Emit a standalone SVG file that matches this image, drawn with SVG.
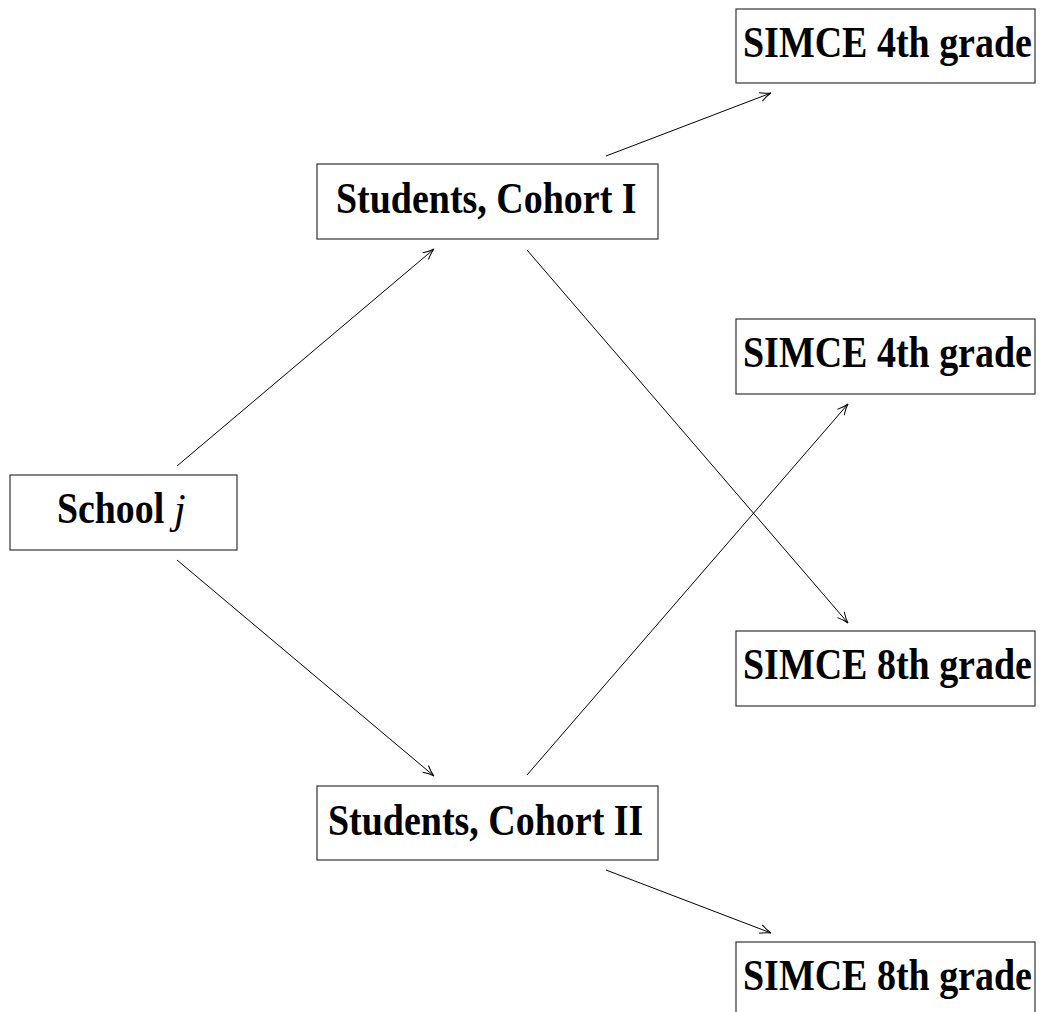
<svg xmlns="http://www.w3.org/2000/svg" width="1042" height="1012" viewBox="0 0 1042 1012">
<style>
.box{fill:#fff;stroke:#333;stroke-width:1.2}
.lbl{font-family:"Liberation Serif","Times New Roman",serif;font-weight:bold;font-size:44px;fill:#000}
.it{font-family:"Liberation Serif","Times New Roman",serif;font-style:italic;font-weight:normal;font-size:42px;fill:#000}
.edge{stroke:#000;stroke-width:1;fill:none;marker-end:url(#ah)}
</style>
<defs>
<marker id="ah" viewBox="-12 -6 14 12" refX="0" refY="0" markerWidth="14" markerHeight="12" markerUnits="userSpaceOnUse" orient="auto">
<path d="M-11,-4.5 Q-5,-1 0,0 Q-5,1 -11,4.5" fill="none" stroke="#000" stroke-width="1"/>
</marker>
</defs>
<rect width="1042" height="1012" fill="#fff"/>
<g id="connectors">
<line class="edge" x1="177" y1="466" x2="434" y2="249"/>
<line class="edge" x1="177" y1="560" x2="434" y2="776"/>
<line class="edge" x1="606" y1="156" x2="771" y2="93"/>
<line class="edge" x1="527" y1="250" x2="848" y2="623"/>
<line class="edge" x1="527" y1="775" x2="848" y2="404"/>
<line class="edge" x1="606" y1="870" x2="771" y2="933"/>
</g>
<g id="school">
<rect class="box" x="10" y="475" width="227" height="75"/>
<text class="lbl" transform="translate(57,523) scale(0.86,1)">School</text>
<text class="it" x="174" y="523">j</text>
</g>
<g id="cohort1">
<rect class="box" x="317" y="164" width="341" height="75"/>
<text class="lbl" transform="translate(336,213) scale(0.863,1)">Students, Cohort I</text>
</g>
<g id="cohort2">
<rect class="box" x="317" y="786" width="341" height="74"/>
<text class="lbl" transform="translate(328,835) scale(0.863,1)">Students, Cohort II</text>
</g>
<g id="simce4a">
<rect class="box" x="736" y="9" width="299" height="74"/>
<text class="lbl" transform="translate(743,57) scale(0.863,1)">SIMCE 4th grade</text>
</g>
<g id="simce4b">
<rect class="box" x="736" y="319" width="299" height="75"/>
<text class="lbl" transform="translate(743,367) scale(0.863,1)">SIMCE 4th grade</text>
</g>
<g id="simce8a">
<rect class="box" x="736" y="631" width="299" height="75"/>
<text class="lbl" transform="translate(743,679) scale(0.863,1)">SIMCE 8th grade</text>
</g>
<g id="simce8b">
<rect class="box" x="736" y="942" width="299" height="75"/>
<text class="lbl" transform="translate(743,990) scale(0.863,1)">SIMCE 8th grade</text>
</g>
</svg>
